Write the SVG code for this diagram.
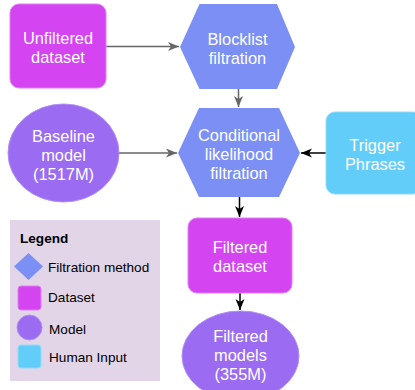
<svg xmlns="http://www.w3.org/2000/svg" width="415" height="390" viewBox="0 0 415 390">
<style>
.t{font-family:"Liberation Sans",Arial,sans-serif;font-size:16.4px;fill:#ffffff;text-anchor:middle}
.l{font-family:"Liberation Sans",Arial,sans-serif;font-size:13.6px;fill:#000000}
.ds{fill:#d444f1;stroke:#e07ff5;stroke-width:1}
.fm{fill:#7b8ff5}
.md{fill:#9b6bf2;stroke:#b08ff5;stroke-width:1}
.hi{fill:#63cdf9;stroke:#8fdcfb;stroke-width:1}
.eg{stroke:#666666;stroke-width:1.5;fill:none}
.eb{stroke:#000000;stroke-width:1.5;fill:none}
</style>
<defs>
<marker id="ag" markerWidth="12" markerHeight="10" refX="11" refY="5" orient="auto" markerUnits="userSpaceOnUse">
<path d="M0,0.5 L11,5 L0,9.5 L3,5 z" fill="#666666"/>
</marker>
<marker id="ab" markerWidth="12" markerHeight="10" refX="11" refY="5" orient="auto" markerUnits="userSpaceOnUse">
<path d="M0,0.5 L11,5 L0,9.5 L3,5 z" fill="#000000"/>
</marker>
</defs>
<g id="connectors">
<path class="eg" d="M106,46.5 L179,46.5" marker-end="url(#ag)"/>
<path class="eg" d="M238.5,89 L238.5,107" marker-end="url(#ag)"/>
<path class="eg" d="M119,153 L177,153" marker-end="url(#ag)"/>
<path class="eb" d="M326,153 L301,153" marker-end="url(#ab)"/>
<path class="eb" d="M239.5,197 L239.5,217" marker-end="url(#ab)"/>
<path class="eb" d="M240,293 L240,310" marker-end="url(#ab)"/>
</g>
<g id="unfiltered-dataset">
<rect class="ds" x="10" y="4" width="96" height="84" rx="9"/>
<text class="t" x="58" y="43.5">Unfiltered</text>
<text class="t" x="58" y="62.5">dataset</text>
</g>
<g id="blocklist-filtration">
<polygon class="fm" points="180,47 199.5,4 277,4 295,47 277,89 199.5,89"/>
<text class="t" x="237.5" y="45">Blocklist</text>
<text class="t" x="237.5" y="64">filtration</text>
</g>
<g id="baseline-model">
<ellipse class="md" cx="63.5" cy="153" rx="55.5" ry="49"/>
<text class="t" x="63.5" y="141.7">Baseline</text>
<text class="t" x="63.5" y="160.7">model</text>
<text class="t" x="63.5" y="179.7">(1517M)</text>
</g>
<g id="conditional-likelihood-filtration">
<polygon class="fm" points="178,153 199,108 279,108 300,153 279,197 199,197"/>
<text class="t" x="239" y="140.5">Conditional</text>
<text class="t" x="239" y="159.5">likelihood</text>
<text class="t" x="239" y="178.5">filtration</text>
</g>
<g id="trigger-phrases">
<rect class="hi" x="326" y="112" width="96" height="82" rx="9"/>
<text class="t" x="375" y="150.7">Trigger</text>
<text class="t" x="375" y="169.5">Phrases</text>
</g>
<g id="filtered-dataset">
<rect class="ds" x="188" y="218" width="104" height="75" rx="9"/>
<text class="t" x="240" y="253.3">Filtered</text>
<text class="t" x="240" y="272.3">dataset</text>
</g>
<g id="filtered-models">
<ellipse class="md" cx="240.5" cy="356" rx="58.5" ry="45"/>
<text class="t" x="240.5" y="341.7">Filtered</text>
<text class="t" x="240.5" y="360.7">models</text>
<text class="t" x="240.5" y="379.7">(355M)</text>
</g>
<g id="legend">
<rect x="10" y="220" width="150" height="161" fill="#e1d5e7"/>
<text class="l" x="20" y="243" font-weight="bold" font-size="13.6">Legend</text>
<polygon class="fm" points="28.5,253 43,266.5 28.5,280 14,266.5"/>
<text class="l" x="48" y="272">Filtration method</text>
<rect class="ds" x="18" y="286" width="23" height="24" rx="3"/>
<text class="l" x="48" y="302">Dataset</text>
<circle class="md" cx="29.5" cy="327.5" r="12.5"/>
<text class="l" x="49" y="334">Model</text>
<rect class="hi" x="18" y="345" width="23" height="23" rx="3"/>
<text class="l" x="49" y="362">Human Input</text>
</g>
</svg>
